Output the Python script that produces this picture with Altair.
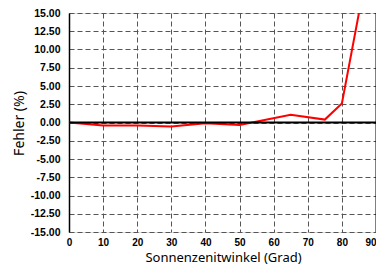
import altair as alt
import pandas as pd

angle = [0, 10, 20, 30, 40, 50, 65, 75, 80, 85]
error = [0.0, -0.4, -0.4, -0.55, -0.1, -0.35, 1.05, 0.4, 2.6, 15.0]
x_ticks = [0, 10, 20, 30, 40, 50, 60, 70, 80, 90]
y_ticks = [-15, -12.5, -10, -7.5, -5, -2.5, 0, 2.5, 5, 7.5, 10, 12.5, 15]

df = pd.DataFrame({"angle": angle, "error": error})

label_font = "Liberation Sans"
title_font = "Noto Sans"

xscale = alt.Scale(domain=[0, 90], nice=False, zero=False)
yscale = alt.Scale(domain=[-15, 15], nice=False, zero=False)

xaxis = alt.Axis(
    title="Sonnenzenitwinkel (Grad)", values=x_ticks, format="d",
    labelFont=label_font, labelFontWeight="bold", labelFontSize=10, labelColor="#000",
    labelPadding=5, ticks=False, domain=False, labelFlush=False, labelOverlap=False,
    labelAlign={"condition": {"test": "datum.value == 90", "value": "right"}, "value": "center"},
    grid=True, gridDash=[5, 3], gridColor="#555", gridWidth=1,
    titleFont=title_font, titleFontSize=13, titleFontWeight="normal", titleColor="#000",
    titleX=154, titleY=32, titleBaseline="bottom", titleAnchor="middle",
)
yaxis = alt.Axis(
    title="Fehler (%)", values=y_ticks,
    labelExpr="replace(format(datum.value, '.2f'), '\u2212', '-')",
    labelFont=label_font, labelFontWeight="bold", labelFontSize=10.5, labelColor="#000",
    labelPadding=9, ticks=False, domain=True, domainColor="#000", domainWidth=1.5,
    labelFlush=False, labelOverlap=False,
    grid=True, gridDash=[5, 3], gridColor="#555", gridWidth=1,
    titleFont=title_font, titleFontSize=14, titleFontWeight="normal", titleColor="#000",
    titleX=-43, titleY=110, titleAngle=-90, titleBaseline="bottom", titleAnchor="middle",
)

line = alt.Chart(df).mark_line(color="#ff0000", strokeWidth=2, clip=True).encode(
    x=alt.X("angle:Q", scale=xscale, axis=xaxis),
    y=alt.Y("error:Q", scale=yscale, axis=yaxis),
)

zero = alt.Chart(pd.DataFrame({"v": [0]})).mark_rule(color="#000", strokeWidth=2).encode(
    y=alt.Y("v:Q", scale=yscale, axis=yaxis)
)
right = alt.Chart(pd.DataFrame({"v": [90]})).mark_rule(color="#000", strokeWidth=1).encode(
    x=alt.X("v:Q", scale=xscale, axis=xaxis)
)

chart = alt.layer(line, zero, right).properties(
    width=307, height=219,
    padding={"left": 61, "top": 5, "right": 0, "bottom": 32},
    autosize=alt.AutoSizeParams(type="none"),
).configure_view(stroke=None).configure(background="white")

chart.save("out.html", embed_options={"renderer": "svg", "actions": False})
